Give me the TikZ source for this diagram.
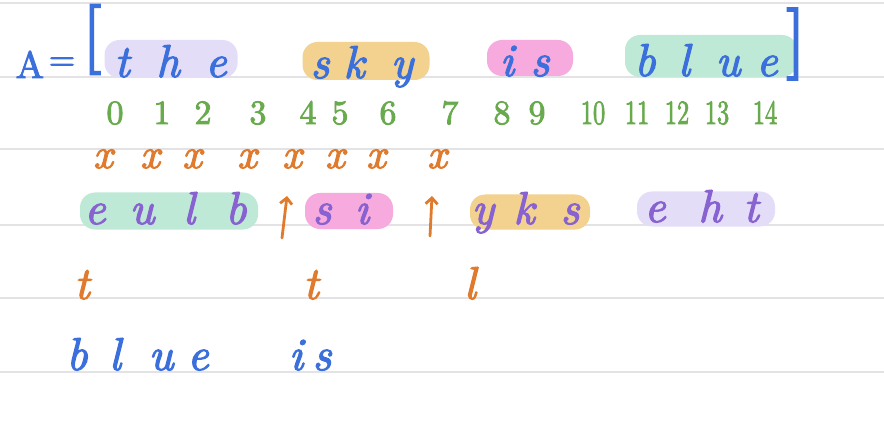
\documentclass[tikz,border=0pt]{standalone}
\usepackage{fontspec}
\usetikzlibrary{arrows.meta}
\newfontfamily\handit{lmroman10-italic.otf}[FakeBold=2.5]
\newfontfamily\handrm{lmroman10-regular.otf}[FakeBold=2.5]
\definecolor{inkblue}{HTML}{3A6FDC}
\definecolor{inkgreen}{HTML}{6AAA4E}
\definecolor{inkorange}{HTML}{E07A2C}
\definecolor{inkpurple}{HTML}{8762D0}
\definecolor{hlpurple}{HTML}{E4DDF8}
\definecolor{hlyellow}{HTML}{F2D28E}
\definecolor{hlpink}{HTML}{F6AADD}
\definecolor{hlgreen}{HTML}{BFE9D7}
\definecolor{rulegray}{HTML}{E3E3E6}
\tikzset{
  rul/.style={draw=rulegray, line width=1.5pt},
  hl/.style={rounded corners=15pt, inner sep=0pt, draw=none},
  lt/.style={anchor=base, inner sep=0pt, font=\handit\fontsize{46}{46}\selectfont},
  dg/.style={anchor=base, inner sep=0pt, text=inkgreen, font=\handrm\fontsize{34}{34}\selectfont},
  cr/.style={anchor=base, inner sep=0pt, text=inkorange, font=\handit\fontsize{42}{42}\selectfont},
  uparrow/.style={draw=inkorange, line width=2.8pt, line cap=round, -{Straight Barb[length=6pt,width=12pt]}},
}
\begin{document}
\begin{tikzpicture}[x=1pt,y=-1pt]
\useasboundingbox (0,0) rectangle (884,425);
\fill[white] (0,0) rectangle (884,425);
\foreach \yy in {3,77,149,225,298,372} \draw[rul] (0,\yy) -- (884,\yy);
% highlights row 1
\node[hl, fill=hlpurple, minimum width=133pt, minimum height=38pt] (hthe) at (171,59) {};
\node[hl, fill=hlyellow, minimum width=127pt, minimum height=38pt] (hsky) at (366,61) {};
\node[hl, fill=hlpink, minimum width=86pt, minimum height=36pt] (his) at (530,58) {};
\node[hl, fill=hlgreen, minimum width=172pt, minimum height=42pt] (hblue) at (711,56) {};
% highlights row 4
\node[hl, fill=hlgreen, minimum width=178pt, minimum height=37pt] (heulb) at (169,211) {};
\node[hl, fill=hlpink, minimum width=88pt, minimum height=36pt] (hsi) at (349,211) {};
\node[hl, fill=hlyellow, minimum width=120pt, minimum height=35pt] (hyks) at (530,212) {};
\node[hl, fill=hlpurple, minimum width=138pt, minimum height=35pt] (heht) at (706,209) {};
% row 1
\node[lt, text=inkblue, font=\handrm\fontsize{38}{38}\selectfont] (A) at (30,78) {A};
\node[lt, text=inkblue, font=\handrm\fontsize{34}{34}\selectfont] (eq) at (62,70) {=};
\node[lt, text=inkblue, font=\handrm\fontsize{70}{70}\selectfont] (lb) at (92,57) {[};
\node[lt, text=inkblue] (a0) at (122,77) {t};
\node[lt, text=inkblue] (a1) at (168,77) {h};
\node[lt, text=inkblue] (a2) at (216,77) {e};
\node[lt, text=inkblue] (a4) at (320,78) {s};
\node[lt, text=inkblue] (a5) at (354,78) {k};
\node[lt, text=inkblue] (a6) at (402,78) {y};
\node[lt, text=inkblue] (a8) at (507,76) {i};
\node[lt, text=inkblue] (a9) at (540,76) {s};
\node[lt, text=inkblue] (a11) at (645,76) {b};
\node[lt, text=inkblue] (a12) at (684,76) {l};
\node[lt, text=inkblue] (a13) at (728,76) {u};
\node[lt, text=inkblue] (a14) at (767,76) {e};
\node[lt, text=inkblue, font=\handrm\fontsize{72}{72}\selectfont] (rb) at (796,62) {]};
% row 2 indices
\foreach \n/\xx in {0/115,1/162,2/203,3/258,4/308,5/340,6/388,7/450,8/502,9/537}
  \node[dg] (d\n) at (\xx,124) {\n};
\foreach \n/\xx in {10/593,11/637,12/677,13/717,14/765}
  \node[dg] (d\n) at (\xx,124) {\scalebox{0.72}[1]{\n}};
% row 3 crosses
\foreach \n/\xx in {1/103,2/150,3/192,4/247,5/292,6/335,7/376,8/437}
  \node[cr] (x\n) at (\xx,168) {x};
% row 4
\node[lt, text=inkpurple] (b0) at (95,224) {e};
\node[lt, text=inkpurple] (b1) at (142,224) {u};
\node[lt, text=inkpurple] (b2) at (189,224) {l};
\node[lt, text=inkpurple] (b3) at (236,224) {b};
\node[lt, text=inkpurple] (b5) at (322,224) {s};
\node[lt, text=inkpurple] (b6) at (362,224) {i};
\node[lt, text=inkpurple] (b8) at (483,224) {y};
\node[lt, text=inkpurple] (b9) at (524,224) {k};
\node[lt, text=inkpurple] (b10) at (570,224) {s};
\node[lt, text=inkpurple] (b12) at (655,222) {e};
\node[lt, text=inkpurple] (b13) at (710,222) {h};
\node[lt, text=inkpurple] (b14) at (751,222) {t};
\coordinate (p1a) at (282,238);
\coordinate (p1b) at (287,196);
\coordinate (p2a) at (430,236);
\coordinate (p2b) at (432,196);
\draw[uparrow] (p1a) -- (p1b);
\draw[uparrow] (p2a) -- (p2b);
% row 5
\node[lt, text=inkorange] (t1) at (82,299) {t};
\node[lt, text=inkorange] (t2) at (311,299) {t};
\node[lt, text=inkorange] (l1) at (470,299) {l};
% row 6
\node[lt, text=inkblue] (c0) at (77,370) {b};
\node[lt, text=inkblue] (c1) at (115,370) {l};
\node[lt, text=inkblue] (c2) at (161,370) {u};
\node[lt, text=inkblue] (c3) at (198,370) {e};
\node[lt, text=inkblue] (c5) at (296,370) {i};
\node[lt, text=inkblue] (c6) at (322,370) {s};
\end{tikzpicture}
\end{document}
